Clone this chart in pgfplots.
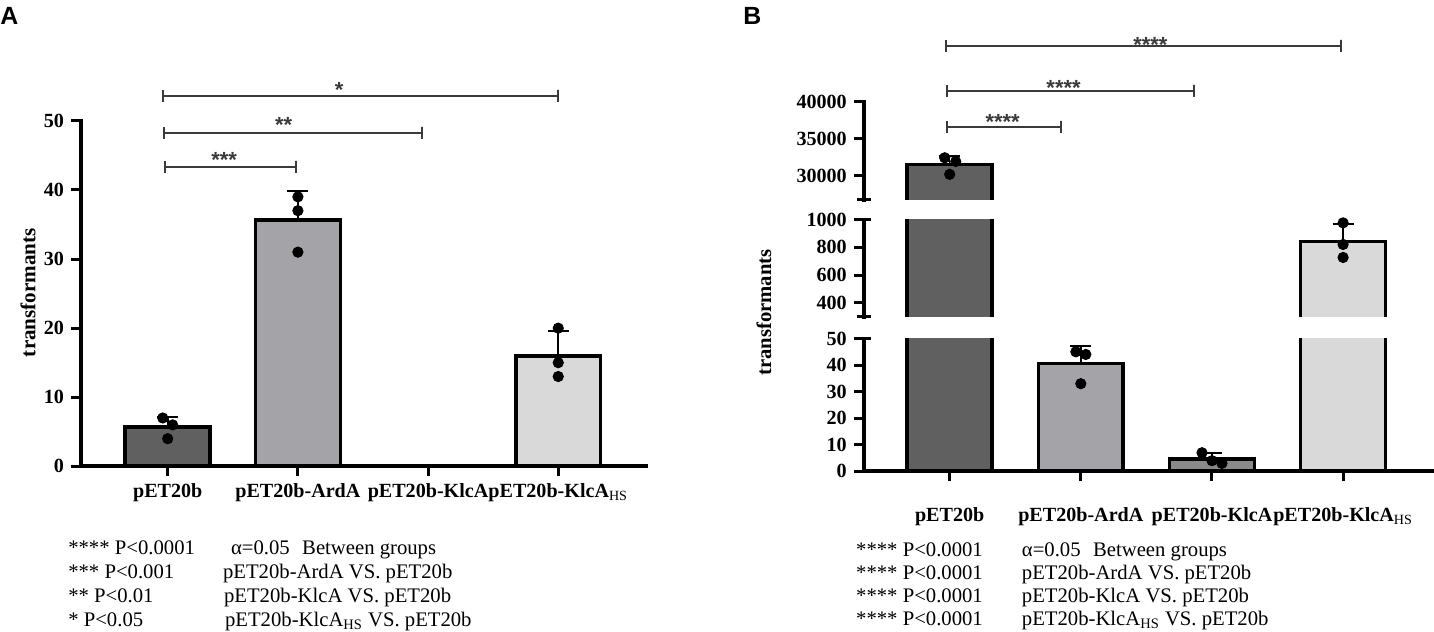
\documentclass[border=0pt]{standalone}
\usepackage{fontspec}
\setmainfont{Liberation Serif}
\newfontfamily\sansf{Liberation Sans}
\usepackage{pgfplots}
\pgfplotsset{compat=1.18}
\definecolor{cA}{HTML}{606060}
\definecolor{cB}{HTML}{A4A4A8}
\definecolor{cC}{HTML}{8A8A8A}
\definecolor{cD}{HTML}{D9D9D9}
\definecolor{brk}{HTML}{3A3A3A}
\pgfplotsset{
  base/.style={
    scale only axis, anchor=south west,
    /pgf/number format/assume math mode=true,
    /pgf/number format/set thousands separator={},
    scaled y ticks=false,
    tick label style={font=\fontsize{10.1}{12}\selectfont\bfseries},
    axis x line=bottom, axis y line=left,
    axis line style={line width=2bp, line cap=rect, -},
    every inner x axis line/.append style={-},
    every outer x axis line/.append style={-},
    every inner y axis line/.append style={-},
    every outer y axis line/.append style={-},
    major tick style={line width=1.5bp, black},
    major tick length=5bp, tick align=outside,
    axis on top,
  },
  barst/.style={ybar, bar width=42.5bp, draw=black, line width=1.8bp},
  polybar/.style={draw=black, line width=1.8bp, no marks},
  errb/.style={error bars/y dir=plus, error bars/y explicit,
    error bars/error bar style={line width=0.8bp, draw=black},
    error bars/error mark options={rotate=90, line width=1bp, mark size=5.25bp, draw=black}},
  pts/.style={only marks, mark=*, mark size=2.6bp, black},
  brkt/.style={brk, line width=1bp, no marks},
}
\newcommand{\sigstar}[1]{{\sansf\bfseries\fontsize{11}{12}\selectfont\color{brk}#1}}
\begin{document}
\begin{tikzpicture}
\begin{scope}[x=0.5bp,y=-0.5bp]
\useasboundingbox (0,0) rectangle (1434,632);
\end{scope}

% ---------------- Panel A ----------------
\begin{axis}[base, at={(40.5bp,-233.5bp)}, width=283bp, height=173bp,
  xmin=-0.667, xmax=3.675, ymin=0, ymax=50,
  xtick={0,1,2,3},
  xticklabels={pET20b, pET20b-ArdA, pET20b-KlcA, pET20b-KlcA\textsubscript{\mdseries HS}},
  ytick={0,10,20,30,40,50}, clip=false]
\addplot[barst, fill=cA, errb] coordinates {(0,5.67) +- (0,1.53)};
\addplot[barst, fill=cB, errb] coordinates {(1,35.67) +- (0,4.16)};
\addplot[barst, fill=cD, errb] coordinates {(3,16.0) +- (0,3.61)};
\addplot[pts] coordinates {(-0.038,7) (0.038,6) (0,4)};
\addplot[pts] coordinates {(1,39) (1,37) (1,31)};
\addplot[pts] coordinates {(3,20) (3,15) (3,13)};
% significance brackets
\addplot[brkt] coordinates {(-0.023,44.22) (-0.023,42.48) (-0.023,43.35) (0.989,43.35) (0.989,44.22) (0.989,42.48)};
\addplot[brkt] coordinates {(-0.031,49.14) (-0.031,47.40) (-0.031,48.27) (1.955,48.27) (1.955,49.14) (1.955,47.40)};
\addplot[brkt] coordinates {(-0.038,54.48) (-0.038,52.74) (-0.038,53.61) (2.998,53.61) (2.998,54.48) (2.998,52.74)};
\node[anchor=base, inner sep=0pt] at (axis cs:0.434,43.2) {\sigstar{***}};
\node[anchor=base, inner sep=0pt] at (axis cs:0.890,48.34) {\sigstar{**}};
\node[anchor=base, inner sep=0pt] at (axis cs:1.317,53.32) {\sigstar{*}};
\end{axis}

% ---------------- Panel B : bottom segment ----------------
\begin{axis}[base, at={(432.5bp,-236bp)}, width=284.5bp, height=66.5bp,
  xmin=-0.655, xmax=3.678, ymin=0, ymax=50,
  restrict y to domain*=0:60,
  xtick={0,1,2,3},
  xticklabels={pET20b, pET20b-ArdA, pET20b-KlcA, pET20b-KlcA\textsubscript{\mdseries HS}},
  xticklabel style={yshift=-9.5bp},
  ytick={0,10,20,30,40,50},
  extra y ticks={50}, extra y tick labels={},
  extra y tick style={tick align=center, major tick length=7bp}]
\addplot[barst, fill=cA] coordinates {(0,31483)};
\addplot[barst, fill=cB, errb] coordinates {(1,40.67) +- (0,6.66)};
\addplot[barst, fill=cC, errb] coordinates {(2,4.67) +- (0,2.08)};
\addplot[barst, fill=cD] coordinates {(3,842)};
\addplot[pts] coordinates {(0.962,45) (1.038,44) (1,33)};
\addplot[pts] coordinates {(1.924,7) (2,4) (2.076,3)};
\end{axis}

% ---------------- Panel B : middle segment ----------------
\begin{axis}[base, at={(432.5bp,-158.5bp)}, width=284.5bp, height=48.5bp,
  xmin=-0.655, xmax=3.678, ymin=300, ymax=1000,
  restrict y to domain*=0:1200,
  axis x line=none, xtick=\empty,
  ytick={400,600,800,1000},
  extra y ticks={300,1000}, extra y tick labels={},
  extra y tick style={tick align=center, major tick length=7bp}]
\addplot[polybar, fill=cA] coordinates {(-0.3236,0) (-0.3236,31483) (0.3236,31483) (0.3236,0)};
\addplot[polybar, fill=cD] coordinates {(2.6764,0) (2.6764,842) (3.3236,842) (3.3236,0)};
\addplot[draw=none, no marks, errb] coordinates {(3,842) +- (0,126)};
\addplot[pts] coordinates {(3,977) (3,821) (3,727)};
\end{axis}

% ---------------- Panel B : top segment ----------------
\begin{axis}[base, at={(432.5bp,-100bp)}, width=284.5bp, height=49bp,
  xmin=-0.655, xmax=3.678, ymin=26700, ymax=40000,
  axis x line=none, xtick=\empty,
  ytick={30000,35000,40000},
  extra y ticks={26700}, extra y tick labels={},
  extra y tick style={tick align=center, major tick length=7bp}]
\addplot[polybar, fill=cA] coordinates {(-0.3236,0) (-0.3236,31483) (0.3236,31483) (0.3236,0)};
\addplot[draw=none, no marks, errb] coordinates {(0,31483) +- (0,1166)};
\addplot[pts] coordinates {(-0.038,32400) (0.046,31900) (0,30150)};
\end{axis}

% ---------------- Panel B : brackets overlay ----------------
\begin{axis}[scale only axis, anchor=south west, at={(432.5bp,-100bp)}, width=284.5bp, height=49bp,
  xmin=-0.655, xmax=3.678, ymin=26700, ymax=40000, hide axis, clip=false]
\addplot[brkt] coordinates {(-0.023,37415) (-0.023,35783) (-0.023,36599) (0.845,36599) (0.845,37415) (0.845,35783)};
\addplot[brkt] coordinates {(-0.023,42313) (-0.023,40681) (-0.023,41497) (1.866,41497) (1.866,42313) (1.866,40681)};
\addplot[brkt] coordinates {(-0.030,48435) (-0.030,46803) (-0.030,47619) (2.986,47619) (2.986,48435) (2.986,46803)};
\node[anchor=base, inner sep=0pt] at (axis cs:0.404,36190) {\sigstar{****}};
\node[anchor=base, inner sep=0pt] at (axis cs:0.868,40816) {\sigstar{****}};
\node[anchor=base, inner sep=0pt] at (axis cs:1.531,46735) {\sigstar{****}};
\end{axis}

% ---------------- texts ----------------
\begin{scope}[x=0.5bp,y=-0.5bp]
\node[anchor=base west, inner sep=0pt, font=\sansf\bfseries\fontsize{12.5}{14}\selectfont] at (0,25) {A};
\node[anchor=base west, inner sep=0pt, font=\sansf\bfseries\fontsize{12.5}{14}\selectfont] at (744,25) {B};
\node[rotate=90, font=\bfseries\fontsize{10.6}{12}\selectfont] at (28,293) {transformants};
\node[rotate=90, font=\bfseries\fontsize{10.4}{12}\selectfont] at (765,313) {transformants};
\begin{scope}[every node/.style={anchor=base west, inner sep=0pt, font=\fontsize{10.4}{12}\selectfont}]
\node at (68,555) {**** P<0.0001};
\node at (68,579) {*** P<0.001};
\node at (68,603) {** P<0.01};
\node at (68,627) {* P<0.05};
\node at (231,555) {α=0.05\hspace{0.6em}Between groups};
\node at (223,579) {pET20b-ArdA VS. pET20b};
\node at (224,603) {pET20b-KlcA VS. pET20b};
\node at (225,627) {pET20b-KlcA\textsubscript{HS} VS. pET20b};
\node at (857,557) {**** P<0.0001};
\node at (857,580) {**** P<0.0001};
\node at (857,603) {**** P<0.0001};
\node at (857,626) {**** P<0.0001};
\node at (1023,557) {α=0.05\hspace{0.6em}Between groups};
\node at (1023,580) {pET20b-ArdA VS. pET20b};
\node at (1023,603) {pET20b-KlcA VS. pET20b};
\node at (1023,626) {pET20b-KlcA\textsubscript{HS} VS. pET20b};
\end{scope}
\end{scope}
\end{tikzpicture}
\end{document}
